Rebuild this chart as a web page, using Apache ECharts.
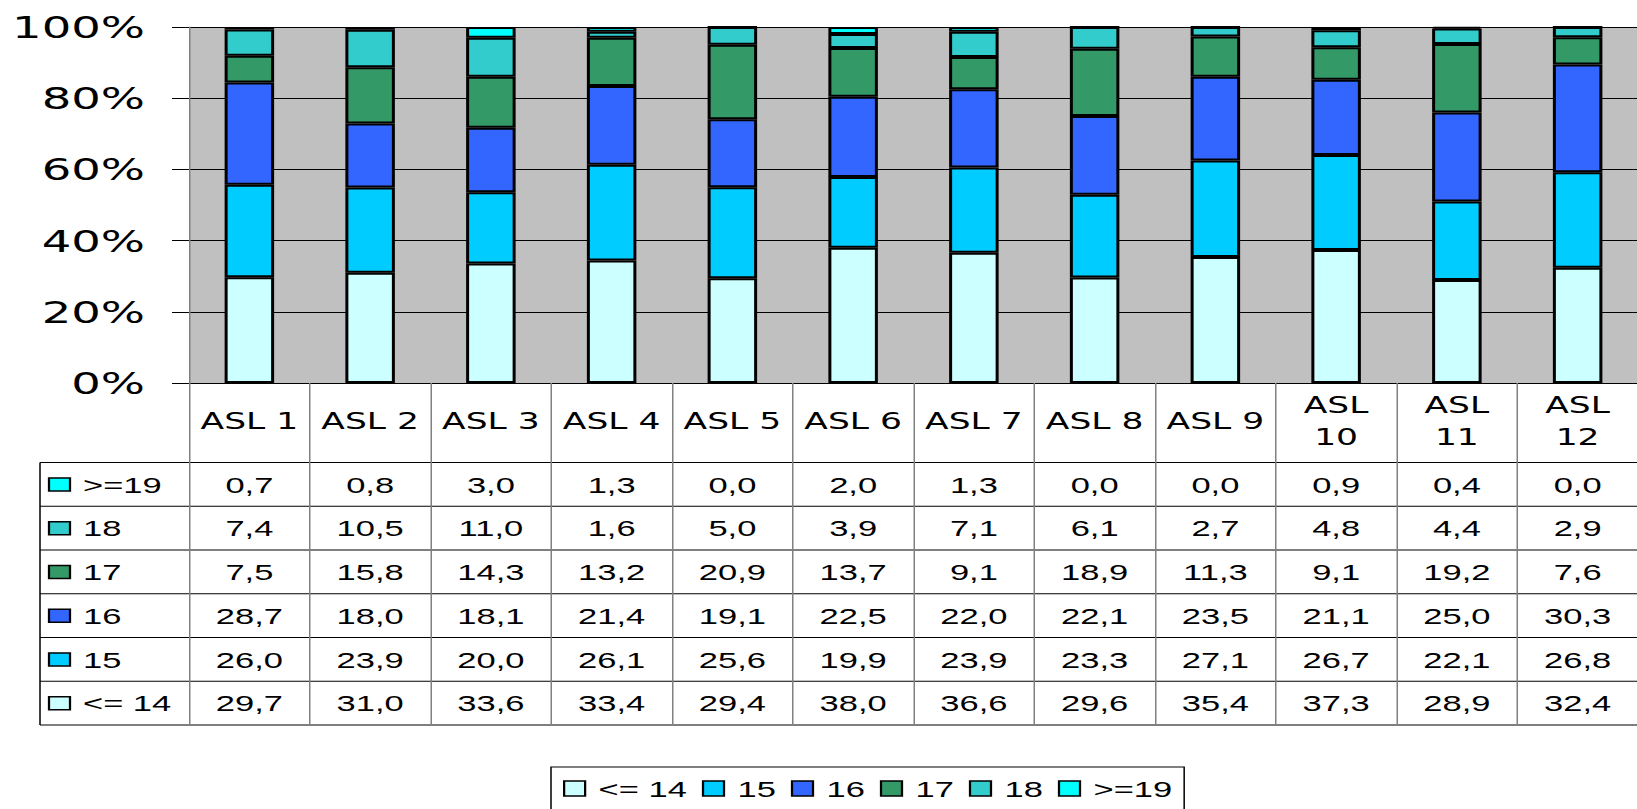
<!DOCTYPE html>
<html>
<head>
<meta charset="utf-8">
<script src="https://cdn.jsdelivr.net/npm/echarts@6/dist/echarts.min.js"></script>
<style>
html, body { margin: 0; padding: 0; background: #fff; overflow: hidden; }
#wrap { width: 1637px; height: 809px; overflow: hidden; }
/* the original chart is stretched sideways, so draw narrow and stretch the box */
#chart { width: 1092px; height: 809px; transform: scaleX(1.5); transform-origin: 0 0; }
</style>
</head>
<body>
<div id="wrap"><div id="chart"></div></div>
<script>
var S = 1.5; // horizontal stretch
function sx(px) { return px / S; }

var categories = ['ASL 1', 'ASL 2', 'ASL 3', 'ASL 4', 'ASL 5', 'ASL 6', 'ASL 7', 'ASL 8', 'ASL 9', 'ASL 10', 'ASL 11', 'ASL 12'];
var le14 = [29.7, 31.0, 33.6, 33.4, 29.4, 38.0, 36.6, 29.6, 35.4, 37.3, 28.9, 32.4];
var v15  = [26.0, 23.9, 20.0, 26.1, 25.6, 19.9, 23.9, 23.3, 27.1, 26.7, 22.1, 26.8];
var v16  = [28.7, 18.0, 18.1, 21.4, 19.1, 22.5, 22.0, 22.1, 23.5, 21.1, 25.0, 30.3];
var v17  = [7.5, 15.8, 14.3, 13.2, 20.9, 13.7, 9.1, 18.9, 11.3, 9.1, 19.2, 7.6];
var v18  = [7.4, 10.5, 11.0, 1.6, 5.0, 3.9, 7.1, 6.1, 2.7, 4.8, 4.4, 2.9];
var ge19 = [0.7, 0.8, 3.0, 1.3, 0.0, 2.0, 1.3, 0.0, 0.0, 0.9, 0.4, 0.0];
var seriesNames = ['<= 14', '15', '16', '17', '18', '>=19'];
var seriesColors = ['#CCFFFF', '#00CCFF', '#3366FF', '#339966', '#33CCCC', '#00FFFF'];
var yTickLabels = ['0%', '20%', '40%', '60%', '80%', '100%'];

var allData = [le14, v15, v16, v17, v18, ge19];

// 100% stacking: each column scaled to its own total
var totals = categories.map(function(c, i) {
	var t = 0;
	allData.forEach(function(d) { t += d[i]; });
	return t;
});

var series = allData.map(function(d, k) {
	return {
		name: seriesNames[k],
		type: 'bar',
		stack: 'all',
		barWidth: '41%',
		data: d.map(function(v, i) { return v / totals[i] * 100; }),
		itemStyle: { color: seriesColors[k], borderColor: '#000', borderWidth: 2 },
		emphasis: { disabled: true }
	};
});

var myChart = echarts.init(document.getElementById('chart'), null, { renderer: 'svg' });
var option = {
	animation: false,
	grid: {
		left: sx(189), top: 27, width: sx(1464), height: 356,
		show: true, backgroundColor: '#C0C0C0', borderWidth: 0
	},
	xAxis: {
		type: 'category',
		data: categories,
		axisLine: { lineStyle: { color: '#000', width: 1 } },
		axisTick: { show: true, interval: 0, length: 342, lineStyle: { color: '#808080', width: 1 } },
		axisLabel: {
			interval: 0, margin: 38, verticalAlign: 'middle',
			fontFamily: 'DejaVu Sans', fontSize: 23, color: '#000', lineHeight: 32,
			formatter: function(v) { return v.length > 5 ? v.replace(' ', '\n') : v; }
		}
	},
	yAxis: {
		type: 'value', min: 0, max: 100, interval: 20,
		axisLabel: {
			formatter: function(v) { return yTickLabels[v / 20]; },
			fontFamily: 'DejaVu Sans', fontSize: 31, color: '#000', margin: sx(44)
		},
		axisLine: { show: true, lineStyle: { color: '#808080', width: 1 } },
		axisTick: { show: true, length: sx(17), lineStyle: { color: '#000' } },
		splitLine: { lineStyle: { color: '#000', width: 1 } }
	},
	legend: {
		data: seriesNames,
		icon: 'rect',
		selectedMode: false,
		left: sx(551), top: 767,
		itemWidth: sx(21), itemHeight: 15, itemGap: 10,
		padding: [10, sx(12), 14, sx(12)],
		borderColor: '#000', borderWidth: 1,
		textStyle: { fontFamily: 'Liberation Sans', fontSize: 23, color: '#000', padding: [0, 0, 0, 4] },
		itemStyle: { borderColor: '#000', borderWidth: 1.5 }
	},
	series: series
};
myChart.setOption(option);

// data table below the plot
var tableTop = 462.5, rowH = 43.75, nRows = 6;
var tableBottom = tableTop + rowH * nRows;
var g = [];
function hline(y) {
	g.push({ type: 'line', shape: { x1: sx(40), y1: y, x2: sx(1700), y2: y }, style: { stroke: '#000', lineWidth: 1 } });
}
for (var r = 0; r <= nRows; r++) hline(tableTop + r * rowH);
g.push({ type: 'line', shape: { x1: sx(40), y1: tableTop, x2: sx(40), y2: tableBottom }, style: { stroke: '#000', lineWidth: 1 } });

for (var r = 0; r < nRows; r++) {
	var k = nRows - 1 - r; // >=19 on top
	var cy = tableTop + rowH * (r + 0.5);
	g.push({
		type: 'rect',
		shape: { x: sx(49), y: cy - 6.5, width: sx(21), height: 13 },
		style: { fill: seriesColors[k], stroke: '#000', lineWidth: 1.5 }
	});
	g.push({
		type: 'text', x: sx(83), y: cy,
		style: { text: seriesNames[k], font: '23px "Liberation Sans"', fill: '#000', textAlign: 'left', textVerticalAlign: 'middle' }
	});
	allData[k].forEach(function(v, i) {
		var cx = myChart.convertToPixel({ xAxisIndex: 0 }, i);
		g.push({
			type: 'text', x: cx, y: cy,
			style: { text: v.toFixed(1).replace('.', ','), font: '23px "Liberation Sans"', fill: '#000', textAlign: 'center', textVerticalAlign: 'middle' }
		});
	});
}
myChart.setOption({ graphic: g });
</script>
</body>
</html>
